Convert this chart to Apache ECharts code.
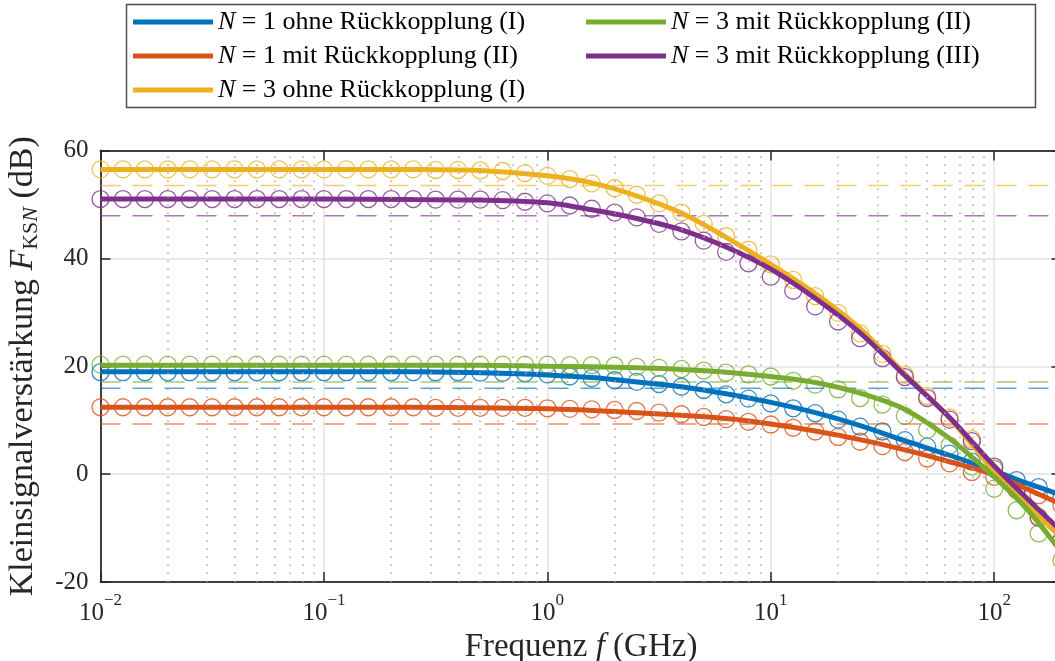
<!DOCTYPE html>
<html>
<head>
<meta charset="utf-8">
<script src="https://cdn.jsdelivr.net/npm/echarts@6/dist/echarts.min.js"></script>
<style>
    html, body { margin: 0; padding: 0; background: #fff; }
    #chart { width: 1055px; height: 661px; }
</style>
</head>
<body>
<div id="chart"></div>
<script>
// Frequenzen der durchgezogenen Kurven (GHz)
var lineFreq = [0.01, 0.0316, 0.1, 0.251, 0.501, 1, 1.58, 2.51, 3.98, 6.31, 10, 15.8, 25.1, 39.8, 63.1, 100, 141, 200];

// Kurven (dB)
var lineN1ohne = [19.0, 19.0, 19.0, 19.0, 18.8, 18.4, 17.9, 17.1, 16.2, 14.9, 13.3, 11.4, 9.0, 6.2, 3.5, 0.6, -1.7, -3.9];
var lineN1mit = [12.4, 12.4, 12.4, 12.4, 12.3, 12.1, 11.8, 11.4, 10.9, 10.3, 9.3, 8.0, 6.4, 4.5, 2.3, -0.1, -2.8, -5.6];
var lineN3ohne = [56.5, 56.5, 56.5, 56.5, 56.3, 55.3, 54.0, 51.6, 48.4, 43.9, 38.9, 33.5, 27.0, 18.6, 10.4, 0.5, -5.8, -11.8];
var lineN3mit2 = [20.2, 20.2, 20.2, 20.2, 20.2, 20.0, 19.9, 19.7, 19.4, 18.9, 18.1, 17.0, 15.0, 12.0, 6.6, -0.5, -6.6, -14.5];
var lineN3mit3 = [51.0, 51.0, 51.0, 50.9, 50.8, 50.3, 49.0, 47.4, 45.3, 42.1, 38.0, 32.6, 26.2, 18.3, 10.5, 1.5, -4.6, -10.6];

// Messpunkte (10 pro Dekade, GHz)
var markFreq = [0.01, 0.0126, 0.0158, 0.02, 0.0251, 0.0316, 0.0398, 0.0501, 0.0631, 0.0794,
    0.1, 0.126, 0.158, 0.2, 0.251, 0.316, 0.398, 0.501, 0.631, 0.794,
    1, 1.26, 1.58, 2, 2.51, 3.16, 3.98, 5.01, 6.31, 7.94,
    10, 12.6, 15.8, 20, 25.1, 31.6, 39.8, 50.1, 63.1, 79.4,
    100, 126, 158, 200];

var markN1ohne = [18.9, 18.9, 18.9, 18.9, 18.9, 18.9, 18.9, 18.9, 18.9, 18.9, 18.9, 18.9, 18.9, 18.9, 18.9,
    18.9, 18.9, 18.8, 18.8, 18.7, 18.5, 18.1, 17.8, 17.4, 17.1, 16.7, 16.2, 15.6, 14.8, 14.0,
    13.1, 12.2, 11.3, 10.1, 8.8, 7.9, 6.3, 5.1, 3.8, 2.3, 1.0, -1.1, -2.4, -4.2];
var markN1mit = [12.4, 12.4, 12.4, 12.4, 12.4, 12.4, 12.4, 12.4, 12.4, 12.4, 12.4, 12.4, 12.4, 12.4, 12.4,
    12.3, 12.3, 12.3, 12.3, 12.3, 12.2, 12.1, 12.0, 11.9, 11.7, 11.4, 11.1, 10.6, 10.2, 9.7,
    9.2, 8.6, 7.9, 6.9, 6.0, 5.2, 4.1, 2.9, 2.0, 0.4, -0.5, -3.0, -3.9, -5.8];
var markN3ohne = [56.5, 56.5, 56.5, 56.5, 56.5, 56.5, 56.5, 56.5, 56.5, 56.5, 56.5, 56.5, 56.5, 56.5, 56.5,
    56.4, 56.4, 56.3, 56.2, 55.8, 55.3, 54.7, 53.9, 53.0, 51.8, 50.2, 48.5, 46.4, 44.1, 41.6,
    38.9, 36.0, 33.0, 29.9, 26.1, 22.3, 18.4, 14.5, 10.5, 6.5, 1.0, -3.0, -7.9, -12.5];
var markN3mit2 = [20.3, 20.3, 20.3, 20.3, 20.3, 20.3, 20.3, 20.3, 20.3, 20.3, 20.3, 20.3, 20.3, 20.3, 20.3,
    20.3, 20.3, 20.3, 20.3, 20.3, 20.3, 20.2, 20.2, 20.1, 19.9, 19.7, 19.5, 19.2, 18.8, 18.5,
    18.1, 17.3, 16.6, 15.7, 14.1, 12.9, 10.8, 8.2, 5.3, 1.4, -2.7, -6.7, -11.0, -16.0];
var markN3mit3 = [51.0, 51.0, 51.0, 51.0, 51.0, 51.0, 51.0, 51.0, 51.0, 51.0, 51.0, 51.0, 51.0, 51.0, 51.0,
    50.9, 50.9, 50.9, 50.8, 50.5, 50.2, 49.8, 49.2, 48.5, 47.6, 46.4, 45.0, 43.3, 41.2, 39.1,
    36.6, 34.0, 31.1, 28.3, 25.2, 21.5, 18.0, 14.1, 10.1, 6.1, 1.4, -2.8, -8.1, -12.2];

// -3 dB Niveaus (gestrichelt)
var level3dB = [15.9, 9.3, 53.5, 17.1, 47.9];

var seriesNames = [
    'N = 1 ohne Rückkopplung (I)',
    'N = 1 mit Rückkopplung (II)',
    'N = 3 ohne Rückkopplung (I)',
    'N = 3 mit Rückkopplung (II)',
    'N = 3 mit Rückkopplung (III)'
];
var seriesColors = ['#0072BD', '#D95319', '#EDB120', '#77AC30', '#7E2F8E'];
var lineData = [lineN1ohne, lineN1mit, lineN3ohne, lineN3mit2, lineN3mit3];
var markData = [markN1ohne, markN1mit, markN3ohne, markN3mit2, markN3mit3];

// Nebengitter 2..9 pro Dekade
var minorTicks = [0.02, 0.03, 0.04, 0.05, 0.06, 0.07, 0.08, 0.09,
    0.2, 0.3, 0.4, 0.5, 0.6, 0.7, 0.8, 0.9,
    2, 3, 4, 5, 6, 7, 8, 9,
    20, 30, 40, 50, 60, 70, 80, 90];

var xMin = 0.01, xMax = 200;
var FONT = 'Liberation Serif';
var TXT = '#262626';

function pairs(xs, ys) {
    return xs.map(function (x, i) { return [x, ys[i]]; });
}

// Beschriftung 10^n
function logLabel(v) {
    var e = Math.round(Math.log10(v));
    if (Math.abs(v / Math.pow(10, e) - 1) > 1e-6) return '';
    return '{b|10}{sup|' + (e < 0 ? '\u2212' + (-e) : e) + '}';
}

var chart = echarts.init(document.getElementById('chart'));

var series = [];

// Nebengitter als markLine
series.push({
    type: 'line',
    data: [],
    silent: true,
    markLine: {
        symbol: ['none', 'none'],
        silent: true,
        label: { show: false },
        lineStyle: { color: '#a8a8a8', type: [1.5, 6.5], width: 1.5 },
        emphasis: { disabled: true },
        data: minorTicks.map(function (v) { return { xAxis: v }; })
    }
});

// gestrichelte -3 dB Linien
seriesNames.forEach(function (name, i) {
    series.push({
        name: name + ' -3dB',
        type: 'line',
        data: [[xMin, level3dB[i]], [xMax, level3dB[i]]],
        showSymbol: false,
        silent: true,
        lineStyle: { color: seriesColors[i], width: 1.5, type: [20, 12], opacity: 0.65 }
    });
});

// durchgezogene Kurven
seriesNames.forEach(function (name, i) {
    series.push({
        name: name,
        type: 'line',
        data: pairs(lineFreq, lineData[i]),
        smooth: 0.3,
        showSymbol: false,
        silent: true,
        itemStyle: { color: seriesColors[i] },
        lineStyle: { color: seriesColors[i], width: 5 }
    });
});

// Kreise
seriesNames.forEach(function (name, i) {
    series.push({
        name: name + ' Punkte',
        type: 'scatter',
        data: pairs(markFreq, markData[i]),
        symbol: 'circle',
        symbolSize: 17,
        clip: false,
        silent: true,
        itemStyle: { color: 'rgba(0,0,0,0)', borderColor: seriesColors[i], borderWidth: 1.3 }
    });
});

var legendText = {
    fontFamily: FONT,
    fontSize: 26,
    color: '#000',
    lineHeight: 34,
    rich: {
        i: { fontFamily: FONT, fontSize: 26, fontStyle: 'italic', lineHeight: 34 }
    }
};
function legendFmt(name) {
    return '{i|N}' + name.slice(1);
}

var option = {
    animation: false,
    backgroundColor: '#fff',
    grid: { left: 100.5, top: 150.5, width: 961, height: 431.5, outerBoundsMode: 'none', containLabel: false },
    graphic: [{
        type: 'rect',
        shape: { x: 126.5, y: 4.5, width: 909, height: 103 },
        style: { fill: 'none', stroke: '#4d4d4d', lineWidth: 1.5 },
        silent: true
    }],
    legend: [{
        orient: 'vertical',
        left: 133,
        top: 5,
        padding: 0,
        itemGap: 0,
        itemWidth: 80,
        itemHeight: 5,
        icon: 'rect',
        selectedMode: false,
        data: seriesNames.slice(0, 3),
        formatter: legendFmt,
        textStyle: legendText
    }, {
        orient: 'vertical',
        left: 586,
        top: 5,
        padding: 0,
        itemGap: 0,
        itemWidth: 80,
        itemHeight: 5,
        icon: 'rect',
        selectedMode: false,
        data: seriesNames.slice(3),
        formatter: legendFmt,
        textStyle: legendText
    }],
    xAxis: [{
        type: 'log',
        logBase: 10,
        min: xMin,
        max: xMax,
        axisLine: { show: true, onZero: false, lineStyle: { color: '#404040', width: 2 } },
        axisTick: { show: true, inside: true, length: 10, lineStyle: { color: TXT, width: 1.5 } },
        axisLabel: {
            formatter: logLabel,
            margin: 10,
            color: TXT,
            rich: {
                b: { fontFamily: FONT, fontSize: 25, color: TXT, lineHeight: 34, verticalAlign: 'bottom' },
                sup: { fontFamily: FONT, fontSize: 17, color: TXT, lineHeight: 34, verticalAlign: 'top' }
            }
        },
        splitLine: { show: true, lineStyle: { color: '#e3e3e3', width: 1.5 } },
        name: 'Frequenz {it|f} (GHz)',
        nameLocation: 'middle',
        nameGap: 39,
        nameTextStyle: {
            fontFamily: FONT, fontSize: 33, color: TXT,
            rich: { it: { fontFamily: FONT, fontSize: 33, fontStyle: 'italic', color: TXT } }
        }
    }, {
        type: 'log',
        logBase: 10,
        min: xMin,
        max: xMax,
        position: 'top',
        axisLine: { show: true, onZero: false, lineStyle: { color: '#404040', width: 2 } },
        axisTick: { show: true, inside: true, length: 10, lineStyle: { color: TXT, width: 1.5 } },
        axisLabel: { show: false },
        splitLine: { show: false }
    }],
    yAxis: [{
        type: 'value',
        min: -20,
        max: 60,
        interval: 20,
        axisLine: { show: true, onZero: false, lineStyle: { color: '#404040', width: 2 } },
        axisTick: { show: true, inside: true, length: 10, lineStyle: { color: TXT, width: 1.5 } },
        axisLabel: { fontFamily: FONT, fontSize: 25, color: TXT, margin: 12 },
        splitLine: { show: true, lineStyle: { color: '#e3e3e3', width: 1.5 } },
        name: 'Kleinsignalverstärkung {it|F}{sub|KS}{subi|N} (dB)',
        nameLocation: 'middle',
        nameRotate: 90,
        nameGap: 58,
        nameTextStyle: {
            fontFamily: FONT, fontSize: 34, color: TXT, lineHeight: 38,
            rich: {
                it: { fontFamily: FONT, fontSize: 34, fontStyle: 'italic', color: TXT, lineHeight: 38 },
                sub: { fontFamily: FONT, fontSize: 22, color: TXT, lineHeight: 38, verticalAlign: 'bottom' },
                subi: { fontFamily: FONT, fontSize: 22, fontStyle: 'italic', color: TXT, lineHeight: 38, verticalAlign: 'bottom' }
            }
        }
    }, {
        type: 'value',
        min: -20,
        max: 60,
        interval: 20,
        position: 'right',
        axisLine: { show: true, onZero: false, lineStyle: { color: '#404040', width: 2 } },
        axisTick: { show: true, inside: true, length: 10, lineStyle: { color: TXT, width: 1.5 } },
        axisLabel: { show: false },
        splitLine: { show: false }
    }],
    series: series
};

chart.setOption(option);
</script>
</body>
</html>
